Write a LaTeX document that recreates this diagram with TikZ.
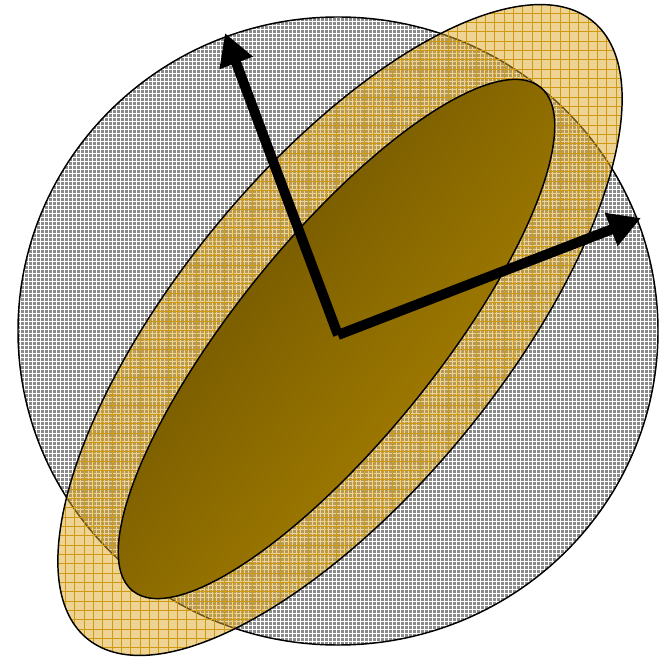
\documentclass[tikz,border=0pt]{standalone}
\usetikzlibrary{arrows.meta,patterns}
\definecolor{graybase}{HTML}{8A8A8A}
\definecolor{yellowbase}{HTML}{DCAA2C}
\definecolor{gridgold}{HTML}{D09A10}
\definecolor{innerdark}{HTML}{654C00}
\definecolor{innerlight}{HTML}{B28900}
\pgfdeclarepatternformonly{finegrid}{\pgfpoint{-0.5pt}{-0.5pt}}{\pgfpoint{3.5pt}{3.5pt}}{\pgfpoint{3pt}{3pt}}{%
  \pgfsetlinewidth{0.65pt}%
  \pgfpathmoveto{\pgfpoint{0pt}{0pt}}\pgfpathlineto{\pgfpoint{3.1pt}{0pt}}%
  \pgfpathmoveto{\pgfpoint{0pt}{0pt}}\pgfpathlineto{\pgfpoint{0pt}{3.1pt}}%
  \pgfusepath{stroke}}
\pgfdeclarepatternformonly{coarsegrid}{\pgfpoint{-0.5pt}{-0.5pt}}{\pgfpoint{7.5pt}{7.5pt}}{\pgfpoint{7pt}{7pt}}{%
  \pgfsetlinewidth{0.6pt}%
  \pgfpathmoveto{\pgfpoint{0pt}{0pt}}\pgfpathlineto{\pgfpoint{7.1pt}{0pt}}%
  \pgfpathmoveto{\pgfpoint{0pt}{0pt}}\pgfpathlineto{\pgfpoint{0pt}{7.1pt}}%
  \pgfusepath{stroke}}
\tikzset{
  outline/.style={draw=black, line width=1.1pt},
  axisarrow/.style={line width=7.5pt, line cap=butt, -{Triangle[length=24pt,width=25pt]}}
}
\begin{document}
\begin{tikzpicture}[x=0.75pt,y=0.75pt]
\useasboundingbox (0,0) rectangle (666,657);
% gray disc
\fill[graybase] (338,326) ellipse (320 and 314);
\fill[pattern=finegrid, pattern color=white] (338,326) ellipse (320 and 314);
\draw[outline] (338,326) ellipse (320 and 314);
% outer yellow ellipse
\begin{scope}[shift={(340,327)}, rotate=50.7]
  \fill[yellowbase, fill opacity=0.5] (0,0) ellipse (399 and 162);
  \fill[pattern=coarsegrid, pattern color=gridgold, fill opacity=0.35] (0,0) ellipse (399 and 162);
  \draw[outline] (0,0) ellipse (399 and 162);
\end{scope}
% inner ellipse
\begin{scope}[shift={(336.5,318)}, rotate=51]
  \shade[top color=innerdark, bottom color=innerlight, shading angle=51] (0,0) ellipse (324 and 100);
  \draw[outline] (0,0) ellipse (324 and 100);
\end{scope}
% axes
\coordinate (o) at (338,322);
\coordinate (t1) at (225,624);
\coordinate (t2) at (641,439);
\draw[axisarrow] (o) -- (t1);
\draw[axisarrow] (o) -- (t2);
\end{tikzpicture}
\end{document}
